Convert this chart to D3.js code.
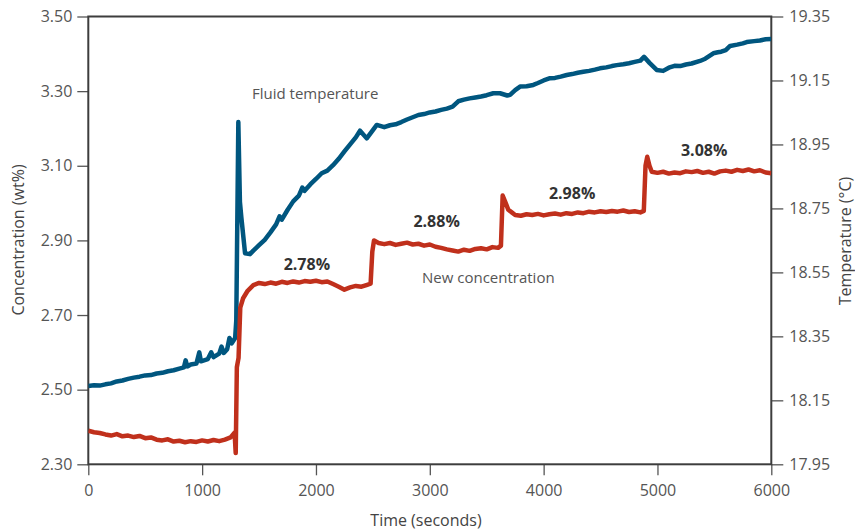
<!DOCTYPE html>
<html lang="en">
<head>
  <meta charset="utf-8">
  <title>Concentration and fluid temperature</title>
  <script src="https://d3js.org/d3.v7.min.js"></script>
  <style>
    body { margin: 0; background: white; }
    text { font-family: "Open Sans", sans-serif; }
  </style>
</head>
<body>
  <svg id="chart" width="855" height="531"></svg>

<script>
  // concentration (wt%), left axis
  var concTime = [0, 50, 100, 150, 200, 250, 300, 350, 400, 450, 500, 550, 600, 650, 700, 750, 800,
    850, 900, 950, 1000, 1050, 1100, 1150, 1200, 1250, 1285, 1295, 1305, 1320, 1335, 1360, 1400, 1450,
    1500, 1550, 1600, 1650, 1700, 1750, 1800, 1850, 1900, 1950, 2000, 2050, 2100, 2150, 2200, 2250,
    2300, 2350, 2400, 2450, 2480, 2495, 2510, 2550, 2600, 2650, 2700, 2750, 2800, 2850, 2900, 2950,
    3000, 3050, 3100, 3150, 3200, 3250, 3300, 3350, 3400, 3450, 3500, 3550, 3600, 3625, 3640, 3660,
    3690, 3720, 3750, 3800, 3850, 3900, 3950, 4000, 4050, 4100, 4150, 4200, 4250, 4300, 4350, 4400,
    4450, 4500, 4550, 4600, 4650, 4700, 4750, 4800, 4850, 4880, 4895, 4910, 4930, 4950, 5000, 5050,
    5100, 5150, 5200, 5250, 5300, 5350, 5400, 5450, 5500, 5550, 5600, 5650, 5700, 5750, 5800, 5850,
    5900, 5950, 6000];
  var concValue = [2.390, 2.386, 2.384, 2.380, 2.377, 2.381, 2.375, 2.377, 2.373, 2.376, 2.370, 2.372,
    2.366, 2.364, 2.367, 2.361, 2.363, 2.359, 2.362, 2.360, 2.364, 2.361, 2.365, 2.362, 2.366, 2.372,
    2.385, 2.330, 2.560, 2.585, 2.720, 2.745, 2.765, 2.780,
    2.786, 2.783, 2.787, 2.784, 2.789, 2.786, 2.790, 2.787, 2.791, 2.789, 2.792, 2.788, 2.790, 2.783,
    2.776, 2.768, 2.774, 2.778, 2.776, 2.781, 2.784, 2.870, 2.900, 2.893, 2.890, 2.893, 2.888, 2.891,
    2.894, 2.889, 2.891, 2.886, 2.889, 2.883, 2.880, 2.876, 2.873, 2.870, 2.875, 2.872, 2.877, 2.879,
    2.876, 2.882, 2.880, 2.886, 3.020, 3.005, 2.982, 2.975, 2.968, 2.966, 2.970, 2.968, 2.971, 2.967,
    2.970, 2.972, 2.969, 2.973, 2.971, 2.975, 2.973, 2.977, 2.975, 2.978, 2.976, 2.979, 2.977, 2.980,
    2.976, 2.978, 2.975, 2.979, 3.100, 3.124, 3.100, 3.084, 3.081, 3.084, 3.079, 3.082, 3.080, 3.085,
    3.083, 3.086, 3.081, 3.084, 3.079, 3.085, 3.087, 3.084, 3.089, 3.086, 3.090, 3.085, 3.088, 3.082,
    3.080];

  // fluid temperature (°C), right axis
  var tempTime = [0, 50, 100, 150, 200, 250, 300, 350, 400, 450, 500, 550, 600, 650, 700, 750, 800,
    840, 855, 870, 900, 950, 975, 990, 1050, 1080, 1100, 1150, 1170, 1190, 1220, 1240, 1260, 1290,
    1300, 1318, 1332, 1345, 1377, 1420, 1450, 1500, 1550, 1600, 1650, 1680, 1700, 1750, 1800, 1850,
    1880, 1900, 1950, 2000, 2050, 2100, 2150, 2200, 2250, 2300, 2350, 2387, 2446, 2500, 2534, 2600,
    2650, 2700, 2750, 2800, 2850, 2900, 2950, 3000, 3050, 3100, 3150, 3200, 3250, 3300, 3350, 3400,
    3450, 3500, 3558, 3617, 3680, 3705, 3750, 3793, 3850, 3909, 3950, 4000, 4056, 4100, 4150, 4203,
    4250, 4300, 4349, 4400, 4450, 4495, 4550, 4600, 4642, 4700, 4750, 4800, 4850, 4882, 4930, 4993,
    5050, 5100, 5150, 5200, 5250, 5300, 5374, 5420, 5491, 5530, 5560, 5600, 5638, 5700, 5750, 5784,
    5850, 5900, 5950, 6000];
  var tempValue = [18.195, 18.197, 18.196, 18.200, 18.203, 18.209, 18.212, 18.217, 18.221, 18.224,
    18.228, 18.229, 18.234, 18.236, 18.241, 18.244, 18.249, 18.253, 18.275, 18.256, 18.262, 18.265,
    18.300, 18.272, 18.279, 18.300, 18.285, 18.296, 18.318, 18.298, 18.310, 18.345, 18.328, 18.345,
    18.400, 19.020, 18.770, 18.720, 18.610, 18.607, 18.618, 18.635, 18.652, 18.675, 18.700, 18.725,
    18.715, 18.745, 18.772, 18.790, 18.815, 18.805, 18.825, 18.842, 18.860, 18.868, 18.885, 18.905,
    18.928, 18.950, 18.972, 18.993, 18.969, 18.995, 19.011, 19.004, 19.010, 19.013, 19.020, 19.028,
    19.035, 19.042, 19.045, 19.050, 19.053, 19.058, 19.062, 19.068, 19.085, 19.090, 19.094, 19.097,
    19.100, 19.104, 19.110, 19.110, 19.103, 19.105, 19.120, 19.131, 19.132, 19.136, 19.142, 19.150,
    19.157, 19.158, 19.162, 19.167, 19.170, 19.174, 19.177, 19.180, 19.184, 19.188, 19.191, 19.195,
    19.198, 19.201, 19.204, 19.208, 19.212, 19.224, 19.205, 19.183, 19.180, 19.190, 19.196, 19.195,
    19.200, 19.203, 19.211, 19.218, 19.235, 19.238, 19.240, 19.245, 19.258, 19.262, 19.266, 19.270,
    19.273, 19.275, 19.279, 19.280];

  var xTicks = [0, 1000, 2000, 3000, 4000, 5000, 6000];
  var leftTicks = [2.30, 2.50, 2.70, 2.90, 3.10, 3.30, 3.50];
  var rightTicks = [17.95, 18.15, 18.35, 18.55, 18.75, 18.95, 19.15, 19.35];

  var stepLabels = ["2.78%", "2.88%", "2.98%", "3.08%"];
  var stepLabelTime = [1920, 3060, 4250, 5410];
  var stepLabelConc = [2.822, 2.935, 3.01, 3.125];

  var svg = d3.select("#chart"),
      plotLeft = 88.3, plotRight = 771.3, plotTop = 16.5, plotBottom = 464.3;

  var x = d3.scaleLinear().domain([0, 6000]).range([plotLeft, plotRight]),
      yL = d3.scaleLinear().domain([2.30, 3.50]).range([plotBottom, plotTop]),
      yR = d3.scaleLinear().domain([17.95, 19.35]).range([plotBottom, plotTop]);

  var conc = concTime.map(function(t, i) { return [t, concValue[i]]; }),
      temp = tempTime.map(function(t, i) { return [t, tempValue[i]]; });

  // axes
  var gx = svg.append("g")
     .attr("transform", "translate(0," + plotBottom + ")")
     .call(d3.axisBottom(x).tickValues(xTicks).tickFormat(d3.format("d")).tickSize(11).tickPadding(9));

  var gl = svg.append("g")
     .attr("transform", "translate(" + plotLeft + ",0)")
     .call(d3.axisLeft(yL).tickValues(leftTicks).tickFormat(d3.format(".2f")).tickSize(11).tickPadding(5));

  var gr = svg.append("g")
     .attr("transform", "translate(" + plotRight + ",0)")
     .call(d3.axisRight(yR).tickValues(rightTicks).tickFormat(d3.format(".2f")).tickSize(12).tickPadding(6));

  [gx, gl, gr].forEach(function(g) {
    g.select(".domain").remove();
    g.selectAll(".tick line").attr("stroke", "#555").attr("stroke-width", 1.3);
    g.selectAll(".tick text")
     .attr("fill", "#555")
     .style("font-size", "16px")
     .style("font-family", "'Open Sans', sans-serif");
  });

  // frame
  svg.append("rect")
     .attr("x", plotLeft).attr("y", plotTop)
     .attr("width", plotRight - plotLeft).attr("height", plotBottom - plotTop)
     .attr("fill", "none")
     .attr("stroke", "#3d3d3d")
     .attr("stroke-width", 2);

  svg.append("clipPath").attr("id", "plot")
     .append("rect")
     .attr("x", plotLeft).attr("y", plotTop - 5)
     .attr("width", plotRight - plotLeft).attr("height", plotBottom - plotTop + 10);

  var lineConc = d3.line()
     .x(function(d) { return x(d[0]); })
     .y(function(d) { return yL(d[1]); });

  var lineTemp = d3.line()
     .x(function(d) { return x(d[0]); })
     .y(function(d) { return yR(d[1]); });

  svg.append("path")
     .datum(temp)
     .attr("clip-path", "url(#plot)")
     .attr("fill", "none")
     .attr("stroke", "#00567f")
     .attr("stroke-width", 4.5)
     .attr("stroke-linejoin", "round")
     .attr("d", lineTemp);

  svg.append("path")
     .datum(conc)
     .attr("clip-path", "url(#plot)")
     .attr("fill", "none")
     .attr("stroke", "#c0301c")
     .attr("stroke-width", 4.5)
     .attr("stroke-linejoin", "round")
     .attr("d", lineConc);

  // annotations
  svg.selectAll(".step")
     .data(stepLabels)
     .enter().append("text")
     .attr("class", "step")
     .attr("x", function(d, i) { return x(stepLabelTime[i]); })
     .attr("y", function(d, i) { return yL(stepLabelConc[i]); })
     .attr("text-anchor", "middle")
     .attr("fill", "#333")
     .style("font-size", "16px")
     .style("font-weight", "bold")
     .text(function(d) { return d; });

  svg.append("text")
     .attr("x", 252).attr("y", 99)
     .attr("fill", "#555")
     .style("font-size", "15px")
     .text("Fluid temperature");

  svg.append("text")
     .attr("x", 422).attr("y", 283)
     .attr("fill", "#555")
     .style("font-size", "15px")
     .text("New concentration");

  // axis titles
  svg.append("text")
     .attr("x", 426).attr("y", 526)
     .attr("text-anchor", "middle")
     .attr("fill", "#444")
     .style("font-size", "16px")
     .text("Time (seconds)");

  svg.append("text")
     .attr("transform", "translate(24,240) rotate(-90)")
     .attr("text-anchor", "middle")
     .attr("fill", "#444")
     .style("font-size", "16px")
     .text("Concentration (wt%)");

  svg.append("text")
     .attr("transform", "translate(851,241) rotate(-90)")
     .attr("text-anchor", "middle")
     .attr("fill", "#444")
     .style("font-size", "16px")
     .text("Temperature (°C)");
</script>
</body>
</html>
